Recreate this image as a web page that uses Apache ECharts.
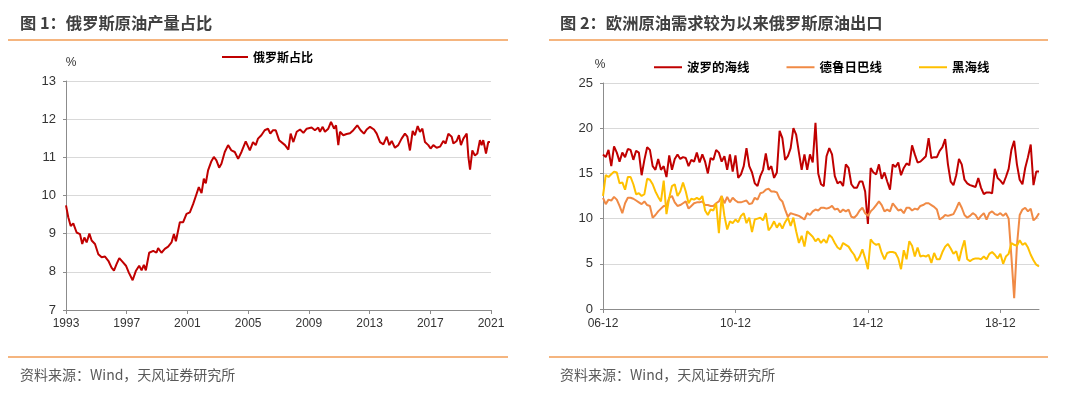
<!DOCTYPE html>
<html>
<head>
<meta charset="utf-8">
<script src="https://cdn.jsdelivr.net/npm/echarts@6/dist/echarts.min.js"></script>
<style>
  html, body { margin: 0; padding: 0; background: #fff; }
  #main { width: 1080px; height: 396px; }
</style>
</head>
<body>
<div id="main"></div>
<script>
// chart 1: russia share of world crude output (%), x in decimal years
var shareYears = [
  1993.0, 1993.15, 1993.31, 1993.48, 1993.70, 1993.92, 1994.07, 1994.21, 1994.36, 1994.54,
  1994.69, 1994.91, 1995.13, 1995.35, 1995.57, 1995.79, 1996.0, 1996.16, 1996.33, 1996.51,
  1996.73, 1996.95, 1997.14, 1997.39, 1997.61, 1997.82, 1997.98, 1998.13, 1998.26, 1998.48,
  1998.75, 1998.96, 1999.07, 1999.29, 1999.51, 1999.73, 1999.95, 2000.11, 2000.24, 2000.5,
  2000.72, 2000.94, 2001.16, 2001.38, 2001.6, 2001.75, 2001.93, 2002.08, 2002.21, 2002.36,
  2002.58, 2002.74, 2002.91, 2003.09, 2003.24, 2003.46, 2003.68, 2003.9, 2004.12, 2004.34,
  2004.56, 2004.84, 2005.11, 2005.32, 2005.5, 2005.65, 2005.87, 2006.09, 2006.31, 2006.46,
  2006.64, 2006.82, 2007.04,
  2007.43, 2007.65, 2007.8, 2007.98, 2008.2, 2008.42, 2008.64, 2008.86, 2009.18, 2009.4,
  2009.62, 2009.73, 2009.91, 2010.06, 2010.28, 2010.46, 2010.66, 2010.79, 2010.94, 2011.05,
  2011.27, 2011.49, 2011.71, 2011.93, 2012.19, 2012.41, 2012.63, 2012.81, 2013.03, 2013.29,
  2013.47, 2013.69, 2013.91, 2014.13, 2014.3, 2014.46, 2014.67, 2014.89, 2015.11, 2015.33,
  2015.49, 2015.66, 2015.84, 2015.99, 2016.17, 2016.32, 2016.48, 2016.65, 2016.87, 2017.02,
  2017.2, 2017.42, 2017.64, 2017.86, 2018.01, 2018.19, 2018.41, 2018.52, 2018.74, 2018.89,
  2019.02, 2019.18, 2019.4, 2019.51, 2019.62, 2019.77, 2019.94, 2020.1, 2020.27, 2020.38,
  2020.49, 2020.67, 2020.82, 2020.93
];
var shareValues = [
  9.74, 9.43, 9.2, 9.27, 9.03, 8.99, 8.73, 8.9, 8.77, 9.0,
  8.82, 8.73, 8.46, 8.38, 8.4, 8.29, 8.11, 8.03, 8.2, 8.36,
  8.26, 8.16, 7.98, 7.78, 8.03, 8.16, 8.04, 8.18, 8.04, 8.5,
  8.55, 8.5, 8.62, 8.5, 8.6, 8.66, 8.77, 8.99, 8.8, 9.3,
  9.3, 9.52, 9.56, 9.78, 10.04, 10.22, 10.06, 10.44, 10.32, 10.66,
  10.9, 11.01, 10.92, 10.73, 10.83, 11.14, 11.32, 11.18, 11.14, 10.96,
  11.14, 11.42, 11.18, 11.4, 11.32, 11.49, 11.58, 11.71, 11.75, 11.62,
  11.71, 11.71, 11.45,
  11.32, 11.2, 11.62, 11.4, 11.67, 11.73, 11.64, 11.75, 11.78, 11.71,
  11.78, 11.67, 11.8, 11.67, 11.75, 11.93, 11.75, 11.84, 11.32, 11.67,
  11.58, 11.61, 11.63, 11.71, 11.84, 11.71, 11.62, 11.73, 11.8, 11.73,
  11.62, 11.4, 11.34, 11.54, 11.32, 11.43, 11.25, 11.32, 11.49, 11.62,
  11.54, 11.18, 11.69, 11.58, 11.82, 11.67, 11.75, 11.4, 11.32, 11.23,
  11.32, 11.25, 11.28, 11.43, 11.36, 11.62, 11.54, 11.36, 11.43, 11.58,
  11.32, 11.49, 11.62, 11.01, 10.68, 11.18, 11.05, 11.1, 11.45, 11.32,
  11.45, 11.1, 11.4, 11.4
];
var shareTicks = [1993, 1997, 2001, 2005, 2009, 2013, 2017, 2021];

// chart 2: russian crude exports by route, monthly from 2006-12
var monthStart = [2006, 12];
var baltic = [
  17.1,16.8,17.6,15.8,18.0,17.3,16.3,17.3,16.8,17.7, 17.6,16.5,17.5,17.3,14.8,16.5,17.9,17.6,15.8,15.4,
  16.6,15.4,15.8,14.6,17.0,15.4,16.6,17.1,16.6,16.8, 16.7,15.8,16.5,16.3,17.3,16.2,17.1,16.3,15.0,16.7,
  16.5,17.6,17.3,16.3,16.9,15.4,17.1,15.2,17.0,
  14.5,14.9,15.8,17.8,15.8,15.1,13.9,13.6,14.7,15.4, 17.2,15.4,15.8,14.5,15.1,19.7,18.9,16.5,16.9,17.8,
  20.0,19.3,17.3,15.4,17.1,15.4,17.1,16.2,20.6,15.0, 13.8,13.6,16.9,17.8,17.1,14.7,13.9,14.1,13.6,16.0,
  15.6,13.8,13.4,13.4,14.1,14.1,13.0,9.4,15.6,15.1, 14.9,16.0,14.4,15.1,14.1,13.2,
  16.0,15.7,16.2,14.8,15.6,16.1,15.9,18.1,17.1,16.2, 16.3,16.6,16.9,18.9,16.7,16.8,16.8,17.5,17.9,18.8,
  16.0,14.1,13.7,14.8,16.6,16.0,14.3,13.9,13.7,13.6, 13.5,14.5,13.4,12.7,12.9,12.9,12.8,15.5,14.5,14.2,
  13.8,14.6,15.5,17.6,18.6,16.0,14.3,13.8,15.6,16.8, 18.2,13.7,15.2,15.2
];
var druzhba = [
  12.3,11.6,12.1,12.0,12.4,12.1,11.4,10.6,11.7,12.3, 12.3,12.2,12.0,11.8,11.6,11.9,11.5,11.4,10.1,10.4,
  10.8,11.1,11.4,11.4,12.3,12.5,11.8,11.4,11.5,11.7, 11.9,11.1,11.4,11.7,11.8,11.8,11.9,11.5,11.5,11.4,
  11.4,11.7,11.9,12.5,11.7,12.4,11.8,12.3,12.0,
  11.8,11.8,11.9,12.0,11.6,11.7,12.3,12.1,12.8,12.9, 13.2,13.3,13.0,13.0,12.9,12.2,11.9,11.0,10.2,10.6,
  10.5,10.4,10.3,10.1,9.9,10.6,10.4,10.8,11.0,10.9, 11.2,11.2,11.1,11.2,11.4,11.0,11.1,10.7,11.0,10.8,
  11.0,10.2,10.1,10.4,10.9,11.2,10.6,10.3,10.8,11.1, 11.5,11.9,11.5,10.8,11.0,10.8,
  11.7,11.3,10.9,11.0,10.6,11.2,11.2,10.9,11.1,11.0, 11.4,11.5,11.7,11.7,11.5,11.3,11.0,9.9,10.1,10.4,
  10.3,10.4,10.5,11.1,11.8,11.2,10.4,10.1,10.3,10.6, 10.4,9.9,10.3,10.6,9.9,10.6,10.8,10.5,10.4,10.6,
  10.3,10.6,10.0,5.8,1.2,7.0,10.4,11.0,11.2,10.8, 11.1,9.8,10.1,10.6
];
var blackSea = [
  12.5,14.8,14.6,14.9,15.2,15.1,13.9,14.0,13.2,14.6, 14.6,13.8,12.7,12.8,12.5,12.7,14.4,14.3,13.8,13.0,
  12.4,11.9,14.2,10.5,12.3,13.6,13.8,12.5,13.0,14.0, 13.0,11.7,12.2,12.1,12.3,12.1,12.5,10.9,10.4,11.0,
  10.9,11.7,8.4,12.5,10.3,8.8,9.7,9.5,9.9,
  9.6,10.3,10.6,9.5,10.1,8.5,9.9,10.0,10.1,9.8, 10.6,8.7,9.1,9.7,9.0,9.5,8.9,9.6,10.1,9.2,
  10.1,8.6,7.3,8.1,6.9,8.6,8.3,8.0,7.5,7.8, 7.3,7.7,7.3,8.2,7.9,7.3,6.8,6.6,7.3,7.1,
  6.9,6.4,6.0,5.3,5.8,6.6,5.6,4.4,7.7,7.3, 7.1,7.2,6.2,5.5,6.2,6.3,
  6.3,6.2,5.6,4.4,6.5,5.5,7.5,7.0,5.8,6.8, 5.8,5.9,5.8,6.0,5.1,6.2,5.5,5.5,6.3,6.9,
  7.2,6.7,6.1,6.4,5.3,6.6,7.6,5.5,5.3,5.5, 5.6,5.6,5.5,5.8,5.5,6.1,6.3,6.0,5.6,6.1,
  5.0,5.8,6.1,7.3,7.1,7.0,7.6,7.1,7.3,6.8, 6.0,5.4,4.9,4.7
];

var months = [];
(function () {
  var y = monthStart[0], m = monthStart[1];
  for (var i = 0; i < baltic.length; i++) {
    months.push(String(y).slice(2) + '-' + (m < 10 ? '0' + m : m));
    m++;
    if (m > 12) { m = 1; y++; }
  }
})();

var sharePairs = shareYears.map(function (t, i) { return [t, shareValues[i]]; });

var cjk = '"Noto Sans CJK SC", sans-serif';
var num = '"Liberation Sans", Arial, sans-serif';
var accent = '#F29D55';
var gridColor = '#D9D9D9';
var axisColor = '#8C8C8C';

function yAxisOf(gridIndex, min, max, step, namePad) {
  return {
    type: 'value', gridIndex: gridIndex, min: min, max: max, interval: step,
    name: '%', nameLocation: 'end', nameGap: 12,
    nameTextStyle: { color: '#333', fontSize: 12, fontFamily: num, padding: namePad },
    axisLine: { show: true, lineStyle: { color: axisColor, width: 1 } },
    axisTick: { show: true, length: 3, lineStyle: { color: axisColor } },
    axisLabel: { color: '#333', fontSize: 13, fontFamily: num, margin: 10 },
    splitLine: { show: true, lineStyle: { color: gridColor, width: 1 } }
  };
}

var chart = echarts.init(document.getElementById('main'));
chart.setOption({
  backgroundColor: '#fff',
  animation: false,
  graphic: [
    { type: 'text', left: 20, top: 15, style: { text: '图 1：俄罗斯原油产量占比', fill: '#404040', font: 'bold 16.3px ' + cjk } },
    { type: 'text', left: 560, top: 15, style: { text: '图 2：欧洲原油需求较为以来俄罗斯原油出口', fill: '#404040', font: 'bold 16.3px ' + cjk } },
    { type: 'line', shape: { x1: 8, y1: 40, x2: 508, y2: 40 }, style: { stroke: accent, lineWidth: 1.5 } },
    { type: 'line', shape: { x1: 549, y1: 40, x2: 1048, y2: 40 }, style: { stroke: accent, lineWidth: 1.5 } },
    { type: 'line', shape: { x1: 8, y1: 357, x2: 508, y2: 357 }, style: { stroke: accent, lineWidth: 1.5 } },
    { type: 'line', shape: { x1: 549, y1: 357, x2: 1048, y2: 357 }, style: { stroke: accent, lineWidth: 1.5 } },
    { type: 'text', left: 20, top: 368, style: { text: '资料来源：Wind，天风证券研究所', fill: '#595959', font: '14px ' + cjk } },
    { type: 'text', left: 560, top: 368, style: { text: '资料来源：Wind，天风证券研究所', fill: '#595959', font: '14px ' + cjk } }
  ],
  legend: [
    {
      data: ['俄罗斯占比'], left: 222, top: 51, padding: 0, icon: 'rect', itemWidth: 26, itemHeight: 2,
      textStyle: { color: '#000', fontSize: 12, fontWeight: 'bold', fontFamily: cjk }
    },
    {
      data: ['波罗的海线', '德鲁日巴线', '黑海线'], left: 654, top: 61, padding: 0, icon: 'rect',
      itemWidth: 28, itemHeight: 2, itemGap: 37,
      textStyle: { color: '#000', fontSize: 12.5, fontWeight: 'bold', fontFamily: cjk }
    }
  ],
  grid: [
    { left: 66, top: 81, width: 425, height: 229 },
    { left: 603, top: 83, width: 436, height: 226 }
  ],
  xAxis: [
    {
      type: 'value', gridIndex: 0, min: shareTicks[0], max: shareTicks[shareTicks.length - 1], interval: 4,
      axisLine: { show: true, lineStyle: { color: axisColor } },
      axisTick: { show: true, length: 4, lineStyle: { color: axisColor } },
      axisLabel: { color: '#333', fontSize: 12, fontFamily: num, margin: 8, formatter: function (v) { return String(v); } },
      splitLine: { show: false }
    },
    {
      type: 'category', gridIndex: 1, data: months, boundaryGap: false,
      axisLine: { show: true, lineStyle: { color: axisColor } },
      axisTick: { show: true, length: 4, interval: 47, lineStyle: { color: axisColor } },
      axisLabel: { color: '#333', fontSize: 12, fontFamily: num, margin: 9, interval: 47 },
      splitLine: { show: false }
    }
  ],
  yAxis: [
    yAxisOf(0, 7, 13, 1, [0, 0, 0, 10]),
    yAxisOf(1, 0, 25, 5, [0, 6, 0, 0])
  ],
  series: [
    {
      name: '俄罗斯占比', type: 'line', xAxisIndex: 0, yAxisIndex: 0, data: sharePairs,
      showSymbol: false, color: '#C00000', lineStyle: { width: 2, color: '#C00000' }
    },
    {
      name: '波罗的海线', type: 'line', xAxisIndex: 1, yAxisIndex: 1, data: baltic,
      showSymbol: false, color: '#C00000', lineStyle: { width: 2, color: '#C00000' }
    },
    {
      name: '德鲁日巴线', type: 'line', xAxisIndex: 1, yAxisIndex: 1, data: druzhba,
      showSymbol: false, color: '#F08A45', lineStyle: { width: 2, color: '#F08A45' }
    },
    {
      name: '黑海线', type: 'line', xAxisIndex: 1, yAxisIndex: 1, data: blackSea,
      showSymbol: false, color: '#FFC000', lineStyle: { width: 2, color: '#FFC000' }
    }
  ]
});
</script>
</body>
</html>
